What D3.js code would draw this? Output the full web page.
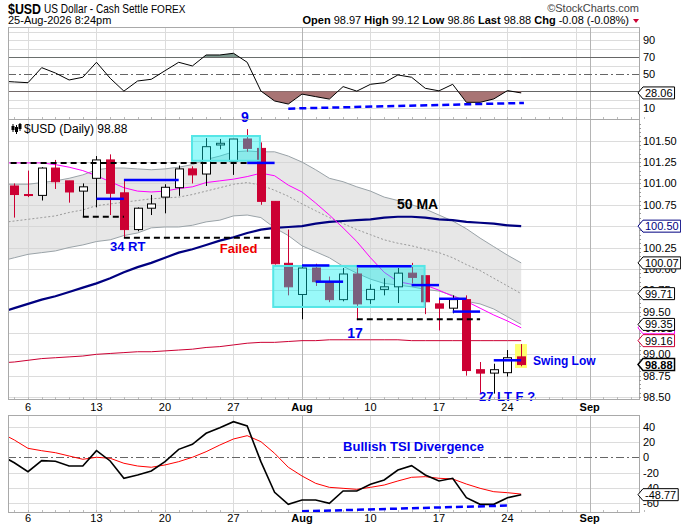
<!DOCTYPE html>
<html>
<head>
<meta charset="utf-8">
<script src="https://cdn.jsdelivr.net/npm/d3@7"></script>
<style>
  body { margin: 0; background: #fff; }
  svg text { font-family: Arial, "Liberation Sans", sans-serif; }
</style>
</head>
<body>
<script>
// ---- data ----
var dates = ["2026-07-02","2026-07-03",
  "2026-07-06","2026-07-07","2026-07-08","2026-07-09","2026-07-10",
  "2026-07-13","2026-07-14","2026-07-15","2026-07-16","2026-07-17",
  "2026-07-20","2026-07-21","2026-07-22","2026-07-23","2026-07-24",
  "2026-07-27","2026-07-28","2026-07-29","2026-07-30","2026-07-31",
  "2026-08-03","2026-08-04","2026-08-05","2026-08-06","2026-08-07",
  "2026-08-10","2026-08-11","2026-08-12","2026-08-13","2026-08-14",
  "2026-08-17","2026-08-18","2026-08-19","2026-08-20","2026-08-21",
  "2026-08-24","2026-08-25"];
var futureDays = ["2026-08-26","2026-08-27","2026-08-28","2026-08-31","2026-09-01",
  "2026-09-02","2026-09-03","2026-09-04","2026-09-07"];

var open  = [100.90,100.97,100.87,100.86,101.18,101.03,100.91,101.06,101.275,100.89,100.46,100.71,100.84,100.95,101.17,101.11,101.45,101.26,101.52,101.41,100.79,100.065,99.70,100.01,99.85,99.64,99.94,99.64,99.76,99.79,99.95,99.92,99.59,99.54,99.64,98.82,98.78,98.785,98.97];
var high  = [101.05,101.00,101.15,101.19,101.275,101.03,101.00,101.32,101.34,101.03,100.72,100.865,100.99,101.21,101.20,101.53,101.52,101.52,101.635,101.48,100.79,100.46,100.03,100.06,99.91,100.01,100.01,99.82,99.89,100.01,100.07,99.92,99.64,99.69,99.69,98.91,98.89,99.05,99.12];
var low   = [100.85,100.60,100.84,100.80,100.935,100.775,100.61,100.72,100.63,100.36,100.44,100.63,100.65,100.855,101.00,100.97,101.40,101.10,101.37,100.75,100.05,99.69,99.41,99.80,99.61,99.62,99.40,99.59,99.69,99.60,99.83,99.47,99.28,99.48,98.75,98.54,98.54,98.74,98.86];
var close = [100.98,100.87,100.86,101.18,101.02,100.90,100.96,101.275,100.885,100.46,100.71,100.76,100.955,101.17,101.10,101.43,101.47,101.52,101.41,100.79,100.06,99.79,100.01,99.85,99.64,99.94,99.59,99.76,99.79,99.95,99.90,99.615,99.54,99.64,98.81,98.78,98.82,98.96,98.88];

var bbUpper = [100.99,100.99,100.99,101.01,101.03,101.06,101.10,101.16,101.18,101.18,101.17,101.16,101.17,101.19,101.22,101.28,101.32,101.37,101.38,101.37,101.37,101.32,101.25,101.16,101.06,101.02,100.96,100.91,100.84,100.80,100.75,100.70,100.63,100.56,100.47,100.36,100.26,100.16,100.07];
var bbMid   = [100.54,100.56,100.58,100.60,100.62,100.66,100.69,100.74,100.76,100.78,100.80,100.82,100.83,100.84,100.87,100.91,100.95,100.99,101.01,100.98,100.92,100.85,100.76,100.68,100.60,100.53,100.46,100.40,100.34,100.30,100.27,100.23,100.19,100.13,100.05,99.98,99.89,99.80,99.71];
var bbLower = [100.09,100.13,100.17,100.19,100.21,100.25,100.28,100.32,100.34,100.39,100.42,100.48,100.49,100.49,100.51,100.55,100.57,100.62,100.63,100.60,100.48,100.39,100.27,100.20,100.13,100.03,99.95,99.88,99.83,99.81,99.79,99.76,99.74,99.69,99.62,99.59,99.53,99.44,99.35];
var ema     = [101.24,101.24,101.24,101.24,101.22,101.19,101.15,101.09,101.02,100.95,100.91,100.90,100.91,100.94,100.96,101.01,101.03,101.05,101.08,101.12,101.09,100.98,100.90,100.77,100.63,100.48,100.32,100.13,99.96,99.85,99.82,99.81,99.75,99.68,99.62,99.54,99.46,99.39,99.31];
var ma50    = [99.49,99.54,99.59,99.64,99.68,99.73,99.78,99.83,99.89,99.96,100.02,100.07,100.13,100.19,100.23,100.28,100.33,100.37,100.42,100.46,100.48,100.49,100.50,100.53,100.55,100.56,100.57,100.58,100.60,100.61,100.61,100.60,100.58,100.57,100.55,100.54,100.53,100.51,100.50];
var ma200   = [98.90,98.91,98.93,98.95,98.96,98.97,98.98,99.00,99.01,99.02,99.03,99.03,99.04,99.05,99.06,99.08,99.09,99.11,99.13,99.14,99.14,99.15,99.16,99.16,99.17,99.17,99.17,99.17,99.17,99.17,99.16,99.16,99.16,99.16,99.16,99.16,99.16,99.16,99.16];

var rsi = [42,41,40.1,57.8,51.5,43.3,46.5,64.1,45.3,30.2,42.1,44.1,54.2,64.1,59.8,72.7,72.7,74.7,64.1,30.3,18.6,15,26.7,23.7,20.8,35.5,30.2,38.2,40.1,49.2,46.5,33.5,30.5,38.2,17,17,21,30.8,28.06];
var tsi = [2.8,-7.2,-18.8,-4.4,-5.2,-11.4,-11.4,8.6,-4.8,-27.4,-23.1,-17.9,-5.7,10.4,17,31.3,38.6,46.5,40.9,-5.7,-45.7,-61.4,-55.7,-55.7,-60,-44,-44,-35.2,-29.6,-16.6,-10.9,-23.1,-30.9,-27.4,-52.7,-61.4,-61.4,-52.7,-48.77];
var tsiSignal = [32,22.6,11.7,8.6,6,1.7,-2.6,0,-1.3,-7.8,-11.4,-13,-10,-5.7,0,7.3,16,23.9,28.2,20.4,5.2,-13,-24.4,-34,-39.2,-40.5,-41.8,-39.2,-36.2,-30.9,-26.1,-25.3,-27.4,-28.3,-34.9,-40.5,-44.9,-46.2,-48];

var tickDates = ["2026-07-06","2026-07-13","2026-07-20","2026-07-27","2026-08-03","2026-08-10","2026-08-17","2026-08-24","2026-09-01"];
var tickText  = ["6","13","20","27","Aug","10","17","24","Sep"];
var weekDates = ["2026-07-06","2026-07-13","2026-07-20","2026-07-27","2026-08-10","2026-08-17","2026-08-24","2026-08-31"];
var monthDates = ["2026-08-03","2026-09-01"];
var priceTicks = [98.50,98.75,99.00,99.25,99.50,99.75,100.00,100.25,100.50,100.75,101.00,101.25,101.50];
var rsiGrid = [10,20,40,60,80,90,100];
var rsiTicks = [90,70,50,10];
var tsiTicks = [40,20,0,-20,-40,-60];

var quote = [["Open","98.97"],["High","99.12"],["Low","98.86"],["Last","98.88"],["Chg","-0.08 (-0.08%)"]];

// annotations (trading-day index, price)
var blueLevels = [[7,9,100.82],[9,13,101.04],[18,20,101.24],[22,24,100.04],[23,25,99.85],[26,30,100.03],[30,32,99.81],[32,34,99.65],[33,35,99.50],[36,38,98.93]];
var blackDashed = [[0,18,101.24],[6,9,100.61],[9,19.8,100.365],[26,35,99.41]];
var cyanBoxes = [[13.97,18.93,101.555,101.265],[19.9,30.95,100.034,99.554]];
var yellowBox = [37.55,38.42,99.12,98.84];
var notes = [
  {t:"9", i:17.84, v:101.72, c:"#0000ee", s:14, a:"middle"},
  {t:"34 RT", i:7.99, v:100.21, c:"#0000ee", s:13, a:"start"},
  {t:"Failed", i:16.0, v:100.186, c:"#ee0000", s:13, a:"start"},
  {t:"50 MA", i:28.93, v:100.70, c:"#000", s:14, a:"start"},
  {t:"17", i:25.3, v:99.19, c:"#0000ee", s:14, a:"start"},
  {t:"Swing Low", i:38.86, v:98.87, c:"#0000ee", s:12, a:"start"},
  {t:"27 LT F ?", i:34.92, v:98.45, c:"#0000ee", s:13, a:"start"}
];
var rsiDiv = [[21,9.6],[38.2,16.3]];
var tsiDiv = [[22,-70.5],[37,-63]];

// ---- layout ----
var width = 681, height = 527;
var L = 8, R = 639;
var rsiTop = 27, rsiBot = 119, mainTop = 119, mainBot = 399, tsiTop = 415, tsiBot = 512;
var red = "#cc0033", gridC = "#dcdcdc", borderC = "#a9a9a9";

var svg = d3.select("body").append("svg")
    .attr("width", width)
    .attr("height", height);

var allDays = dates.concat(futureDays);
function ix(d) { return allDays.indexOf(d); }

var x = d3.scaleLinear().domain([0.54, 46.6]).range([L, R]);
var yP = d3.scaleLinear().domain([98.477, 101.754]).range([mainBot, mainTop]);
var yR = d3.scaleLinear().domain([-2.6, 105.6]).range([rsiBot, rsiTop]);
var yT = d3.scaleLinear().domain([-71.4, 55.2]).range([tsiBot, tsiTop]);

var defs = svg.append("defs");
function clip(id, x0, y0, x1, y1) {
    defs.append("clipPath").attr("id", id).append("rect")
        .attr("x", x0).attr("y", y0).attr("width", x1 - x0).attr("height", y1 - y0);
}
clip("cMain", L, mainTop, R, mainBot);
clip("cRsi", L, rsiTop, R, rsiBot);
clip("cTsi", L, tsiTop, R, tsiBot);
clip("cAbove70", L, rsiTop, R, yR(70));
clip("cBelow30", L, yR(30), R, rsiBot);

function px(v) { return Math.round(v) + 0.5; }

function vGrid(g, top, bot) {
    g.selectAll(".wk").data(weekDates).enter().append("line")
        .attr("x1", d => px(x(ix(d)))).attr("x2", d => px(x(ix(d))))
        .attr("y1", top).attr("y2", bot)
        .attr("stroke", gridC);
    g.selectAll(".mo").data(monthDates).enter().append("line")
        .attr("x1", d => px(x(ix(d)))).attr("x2", d => px(x(ix(d))))
        .attr("y1", top).attr("y2", bot)
        .attr("stroke", "#b4b4b4");
    // daily minor ticks at panel bottom
    g.selectAll(".mt").data(d3.range(1, allDays.length)).enter().append("line")
        .attr("x1", d => px(x(d))).attr("x2", d => px(x(d)))
        .attr("y1", bot - 2).attr("y2", bot)
        .attr("stroke", "#bbb");
}
function hGrid(g, vals, scale) {
    g.selectAll(".hg").data(vals).enter().append("line")
        .attr("x1", L).attr("x2", R)
        .attr("y1", d => px(scale(d))).attr("y2", d => px(scale(d)))
        .attr("stroke", gridC);
}
function border(top, bot) {
    svg.append("rect")
        .attr("x", L + 0.5).attr("y", top + 0.5)
        .attr("width", R - L).attr("height", bot - top)
        .attr("fill", "none").attr("stroke", borderC);
}
function valueBox(y, label, stroke, opts) {
    opts = opts || {};
    var g = svg.append("g");
    var t = g.append("text")
        .attr("x", R + 6).attr("y", y + 4)
        .attr("font-size", 11)
        .attr("font-weight", opts.bold ? "bold" : "normal")
        .attr("fill", opts.color || "#000")
        .text(label);
    var tw = t.node().getComputedTextLength();
    g.insert("path", "text")
        .attr("d", "M" + (R - 1) + "," + y + " L" + (R + 4) + "," + (y - 6) +
            " L" + (R + 8 + tw) + "," + (y - 6) + " L" + (R + 8 + tw) + "," + (y + 6) +
            " L" + (R + 4) + "," + (y + 6) + " Z")
        .attr("fill", "#fff")
        .attr("stroke", stroke)
        .attr("stroke-width", opts.bold ? 1.5 : 1);
}

// ---- header ----
svg.append("text").attr("x", 8).attr("y", 14)
    .attr("font-size", 14).attr("font-weight", "bold")
    .attr("textLength", 33).attr("lengthAdjust", "spacingAndGlyphs")
    .text("$USD");
svg.append("text").attr("x", 44).attr("y", 13)
    .attr("font-size", 12)
    .attr("textLength", 104).attr("lengthAdjust", "spacingAndGlyphs")
    .text("US Dollar - Cash Settle");
svg.append("text").attr("x", 151).attr("y", 13)
    .attr("font-size", 10).text("FOREX");
svg.append("text").attr("x", 8).attr("y", 24)
    .attr("font-size", 11).text("25-Aug-2026 8:24pm");
svg.append("text").attr("x", R).attr("y", 12)
    .attr("text-anchor", "end").attr("font-size", 11).attr("fill", "#444")
    .text("\u00A9StockCharts.com");

var qt = svg.append("text").attr("x", 629).attr("y", 24)
    .attr("text-anchor", "end").attr("font-size", 11);
quote.forEach(function(q, i) {
    qt.append("tspan").attr("font-weight", "bold").text((i ? "  " : "") + q[0] + " ");
    qt.append("tspan").text(q[1]);
});
svg.append("path").attr("d", "M633,19 L639,19 L636,23 Z").attr("fill", red);

// ---- RSI panel ----
var rsiG = svg.append("g");
rsiG.append("rect").attr("x", L).attr("y", rsiTop).attr("width", R - L).attr("height", rsiBot - rsiTop).attr("fill", "#fff");
hGrid(rsiG, rsiGrid, yR);
vGrid(rsiG, rsiTop, rsiBot);
[70, 30].forEach(function(v) {
    rsiG.append("line").attr("x1", L).attr("x2", R)
        .attr("y1", px(yR(v))).attr("y2", px(yR(v)))
        .attr("stroke", "#666");
});
rsiG.append("line").attr("x1", L).attr("x2", R)
    .attr("y1", px(yR(50))).attr("y2", px(yR(50)))
    .attr("stroke", "#666").attr("stroke-dasharray", "8,3,2,3");

var rsiLineG = rsiG.append("g").attr("clip-path", "url(#cRsi)");
rsiLineG.append("path").datum(rsi)
    .attr("d", d3.area().x((d, i) => x(i)).y0(yR(70)).y1(d => yR(d)))
    .attr("fill", "#7f9a90").attr("clip-path", "url(#cAbove70)");
rsiLineG.append("path").datum(rsi)
    .attr("d", d3.area().x((d, i) => x(i)).y0(yR(30)).y1(d => yR(d)))
    .attr("fill", "#a87474").attr("clip-path", "url(#cBelow30)");
rsiLineG.append("path").datum(rsi)
    .attr("d", d3.line().x((d, i) => x(i)).y(d => yR(d)))
    .attr("fill", "none").attr("stroke", "#000").attr("stroke-width", 1);
rsiLineG.append("path").datum(rsiDiv)
    .attr("d", d3.line().x(d => x(d[0])).y(d => yR(d[1])))
    .attr("fill", "none").attr("stroke", "#0000ff")
    .attr("stroke-width", 2.5).attr("stroke-dasharray", "7,4");
border(rsiTop, rsiBot);

rsiTicks.forEach(function(v) {
    svg.append("text").attr("x", R + 4).attr("y", yR(v) + 4)
        .attr("font-size", 11).text(v);
});
valueBox(yR(rsi[rsi.length - 1]), rsi[rsi.length - 1].toFixed(2), "#000");

// ---- main price panel ----
var mainG = svg.append("g");
hGrid(mainG, priceTicks, yP);
vGrid(mainG, mainTop, mainBot);

var plot = mainG.append("g").attr("clip-path", "url(#cMain)");

plot.append("path").datum(bbUpper)
    .attr("d", d3.area().x((d, i) => x(i)).y0((d, i) => yP(bbLower[i])).y1(d => yP(d)))
    .attr("fill", "#d4d4d4").attr("fill-opacity", 0.55);
[bbUpper, bbLower].forEach(function(s) {
    plot.append("path").datum(s)
        .attr("d", d3.line().x((d, i) => x(i)).y(d => yP(d)))
        .attr("fill", "none").attr("stroke", "#9aa3a8").attr("stroke-width", 1);
});
plot.append("path").datum(bbMid)
    .attr("d", d3.line().x((d, i) => x(i)).y(d => yP(d)))
    .attr("fill", "none").attr("stroke", "#999").attr("stroke-width", 1)
    .attr("stroke-dasharray", "2,2");
plot.append("path").datum(ma200)
    .attr("d", d3.line().x((d, i) => x(i)).y(d => yP(d)))
    .attr("fill", "none").attr("stroke", red).attr("stroke-width", 1);
plot.append("path").datum(ma50)
    .attr("d", d3.line().x((d, i) => x(i)).y(d => yP(d)))
    .attr("fill", "none").attr("stroke", "#000080").attr("stroke-width", 2.2);
plot.append("path").datum(ema)
    .attr("d", d3.line().x((d, i) => x(i)).y(d => yP(d)))
    .attr("fill", "none").attr("stroke", "#ff00ff").attr("stroke-width", 1);

plot.append("rect")
    .attr("x", x(yellowBox[0])).attr("width", x(yellowBox[1]) - x(yellowBox[0]))
    .attr("y", yP(yellowBox[2])).attr("height", yP(yellowBox[3]) - yP(yellowBox[2]))
    .attr("fill", "#ffff55").attr("fill-opacity", 0.85);

// candles
var candles = dates.map(function(d, i) {
    var prev = i > 0 ? close[i - 1] : open[i];
    return {i: i, o: open[i], h: high[i], l: low[i], c: close[i],
            col: close[i] < prev ? red : "#000"};
});
var bw = 8;
plot.selectAll(".wick").data(candles).enter().append("line")
    .attr("x1", d => px(x(d.i))).attr("x2", d => px(x(d.i)))
    .attr("y1", d => yP(d.h)).attr("y2", d => yP(d.l))
    .attr("stroke", d => d.col);
plot.selectAll(".body").data(candles).enter().append("rect")
    .attr("x", d => Math.round(x(d.i)) - bw / 2 + 0.5)
    .attr("width", bw)
    .attr("y", d => yP(Math.max(d.o, d.c)))
    .attr("height", d => Math.max(1, Math.abs(yP(d.o) - yP(d.c))))
    .attr("fill", d => d.c < d.o ? d.col : "#fff")
    .attr("stroke", d => d.col);

plot.selectAll(".cbox").data(cyanBoxes).enter().append("rect")
    .attr("x", d => x(d[0])).attr("width", d => x(d[1]) - x(d[0]))
    .attr("y", d => yP(d[2])).attr("height", d => yP(d[3]) - yP(d[2]))
    .attr("fill", "#00f0f0").attr("fill-opacity", 0.4)
    .attr("stroke", "#55e6e6").attr("stroke-width", 2);

plot.selectAll(".dash").data(blackDashed).enter().append("line")
    .attr("x1", d => x(d[0])).attr("x2", d => x(d[1]))
    .attr("y1", d => yP(d[2])).attr("y2", d => yP(d[2]))
    .attr("stroke", "#000").attr("stroke-width", 2).attr("stroke-dasharray", "6,4");
plot.selectAll(".lvl").data(blueLevels).enter().append("line")
    .attr("x1", d => x(d[0])).attr("x2", d => x(d[1]))
    .attr("y1", d => yP(d[2])).attr("y2", d => yP(d[2]))
    .attr("stroke", "#0000ff").attr("stroke-width", 2.5);

svg.selectAll(".note").data(notes).enter().append("text")
    .attr("x", d => x(d.i)).attr("y", d => yP(d.v))
    .attr("text-anchor", d => d.a)
    .attr("font-size", d => d.s).attr("font-weight", "bold")
    .attr("fill", d => d.c)
    .text(d => d.t);

// legend
var lg = svg.append("g");
[[13, 124, 132, 126, 130], [16.5, 125, 134, 127, 132], [20, 123, 131, 124, 129]].forEach(function(c) {
    lg.append("line").attr("x1", c[0]).attr("x2", c[0]).attr("y1", c[1]).attr("y2", c[2]).attr("stroke", "#000");
    lg.append("rect").attr("x", c[0] - 1.5).attr("y", c[3]).attr("width", 3).attr("height", c[4] - c[3]).attr("fill", "#000");
});
lg.append("text").attr("x", 24).attr("y", 133).attr("font-size", 12)
    .text("$USD (Daily) " + close[close.length - 1].toFixed(2));

border(mainTop, mainBot);

// right price axis
svg.selectAll(".mtick").data(d3.range(98.5, 101.75, 0.05)).enter().append("line")
    .attr("x1", R).attr("x2", R + 2)
    .attr("y1", d => px(yP(d))).attr("y2", d => px(yP(d)))
    .attr("stroke", "#999");
svg.selectAll(".ptick").data(priceTicks).enter().append("text")
    .attr("x", R + 4).attr("y", d => yP(d) + 4)
    .attr("font-size", 11)
    .text(d => d.toFixed(2));

var last = dates.length - 1;
valueBox(yP(ma50[last]), ma50[last].toFixed(2), "#000080", {color: "#000080"});
valueBox(yP(bbUpper[last]), bbUpper[last].toFixed(2), "#000");
valueBox(yP(bbMid[last]), bbMid[last].toFixed(2), "#000");
valueBox(yP(ema[last]), ema[last].toFixed(2), "#ff00ff");
valueBox(yP(bbLower[last]), bbLower[last].toFixed(2), "#000");
valueBox(yP(ma200[last]), ma200[last].toFixed(2), red);
valueBox(yP(close[last]), close[last].toFixed(2), "#000", {bold: true});

// date labels
function dateLabels(yb) {
    svg.selectAll(null).data(tickDates).enter().append("text")
        .attr("x", d => x(ix(d))).attr("y", yb)
        .attr("text-anchor", "middle").attr("font-size", 11)
        .attr("font-weight", (d, i) => isNaN(+tickText[i]) ? "bold" : "normal")
        .text((d, i) => tickText[i]);
}
dateLabels(411);
dateLabels(522);

// ---- TSI panel ----
var tsiG = svg.append("g");
hGrid(tsiG, tsiTicks.filter(v => v !== 0), yT);
vGrid(tsiG, tsiTop, tsiBot);
tsiG.append("line").attr("x1", L).attr("x2", R)
    .attr("y1", px(yT(0))).attr("y2", px(yT(0)))
    .attr("stroke", "#666").attr("stroke-dasharray", "8,3,2,3");
var tsiPlot = tsiG.append("g").attr("clip-path", "url(#cTsi)");
tsiPlot.append("path").datum(tsiSignal)
    .attr("d", d3.line().x((d, i) => x(i)).y(d => yT(d)))
    .attr("fill", "none").attr("stroke", "#ff0000").attr("stroke-width", 1);
tsiPlot.append("path").datum(tsi)
    .attr("d", d3.line().x((d, i) => x(i)).y(d => yT(d)))
    .attr("fill", "none").attr("stroke", "#000").attr("stroke-width", 1.6);
tsiPlot.append("path").datum(tsiDiv)
    .attr("d", d3.line().x(d => x(d[0])).y(d => yT(d[1])))
    .attr("fill", "none").attr("stroke", "#0000ff")
    .attr("stroke-width", 2.5).attr("stroke-dasharray", "7,4");
svg.append("text").attr("x", x(25)).attr("y", yT(8.2))
    .attr("font-size", 13).attr("font-weight", "bold").attr("fill", "#0000ee")
    .text("Bullish TSI Divergence");
border(tsiTop, tsiBot);

tsiTicks.forEach(function(v) {
    svg.append("text").attr("x", R + 4).attr("y", yT(v) + 4)
        .attr("font-size", 11).text(v);
});
valueBox(yT(tsi[last]), tsi[last].toFixed(2), "#000");
</script>
</body>
</html>
